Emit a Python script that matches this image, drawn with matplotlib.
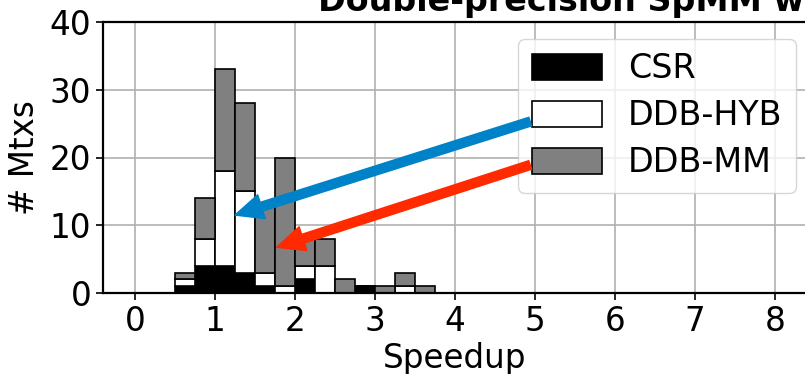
import numpy as np
import matplotlib
matplotlib.use("Agg")
import matplotlib.pyplot as plt

# Histogram bins (speedup), width 0.25, left edges 0.5 .. 3.5
bin_left = np.arange(0.5, 3.75, 0.25)
bin_width = 0.25

# Stacked counts per bin
csr_counts = [1, 4, 4, 3, 1, 0, 2, 0, 0, 1, 0, 0, 0]
hyb_counts = [1, 4, 14, 12, 2, 1, 2, 4, 0, 0, 0, 1, 0]
mm_counts = [1, 6, 15, 13, 10, 19, 4, 4, 2, 0, 1, 2, 1]

series_labels = ['CSR', 'DDB-HYB', 'DDB-MM']
series_colors = ['black', 'white', 'gray']

x_ticks = list(range(0, 9))
y_ticks = [0, 10, 20, 30, 40]

# arrows: (tail, tip) in data coords
blue_arrow = ((4.94, 25.3), (1.25, 11.5))
red_arrow = ((4.94, 18.9), (1.77, 6.75))

FS = 23.5

fig = plt.figure(figsize=(8.05, 3.74), dpi=100)
ax = fig.add_axes([103 / 805, 81 / 374, 704 / 805, 271 / 374])

bottom = np.zeros(len(bin_left))
for counts, label, color in zip([csr_counts, hyb_counts, mm_counts],
                                series_labels, series_colors):
    ax.bar(bin_left, counts, width=bin_width, align='edge', bottom=bottom,
           color=color, edgecolor='black', linewidth=1.2, label=label, zorder=2)
    bottom = bottom + np.array(counts)

ax.set_xticks(x_ticks)
ax.set_yticks(y_ticks)
ax.set_xlim(-0.4, 8.4)
ax.set_ylim(0, 40)
ax.tick_params(axis='both', labelsize=FS, width=1.2, length=5)
ax.grid(True, color='#b0b0b0', linewidth=1.2)
ax.set_axisbelow(True)
for sp in ax.spines.values():
    sp.set_linewidth(1.6)

ax.set_xlabel('Speedup', fontsize=FS, labelpad=3)
ax.set_ylabel('# Mtxs', fontsize=FS, labelpad=6)

leg = ax.legend(loc='upper right', bbox_to_anchor=(796 / 805, 1 - 39 / 374),
                bbox_transform=fig.transFigure, borderaxespad=0,
                fontsize=24, handlelength=2.1, handleheight=0.8,
                labelspacing=0.42)
leg.set_zorder(3)

for (tail, tip), col in [(blue_arrow, '#0082c8'), (red_arrow, '#ff2a00')]:
    ax.annotate('', xy=tip, xytext=tail,
                arrowprops=dict(width=6.5, headwidth=18, headlength=20,
                                color=col, shrink=0.0),
                zorder=4)

fig.text(318 / 805, 1 - 11 / 374, 'Double-precision SpMM w',
         fontsize=24, fontweight='bold', ha='left', va='baseline')

fig.savefig('out.png', dpi=100)
